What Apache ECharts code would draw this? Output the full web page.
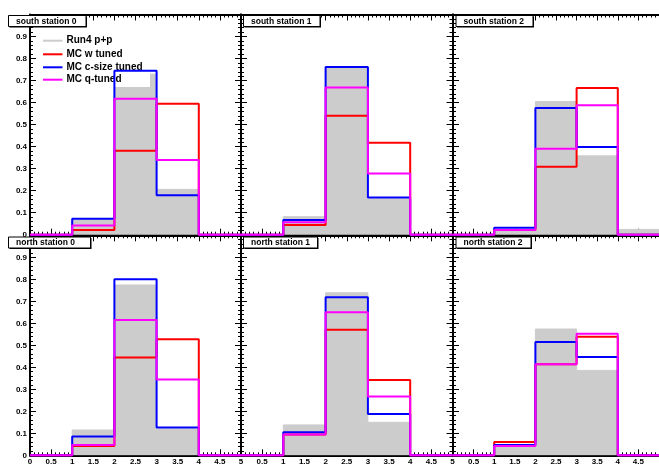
<!DOCTYPE html>
<html><head><meta charset="utf-8">
<script src="https://cdn.jsdelivr.net/npm/echarts@6/dist/echarts.min.js"></script>
<style>html,body{margin:0;padding:0;background:#fff;overflow:hidden}#c{width:659px;height:468px}</style>
</head><body><div id="c"></div><script>
// ---------------- data ----------------
const binStarts = [0, 1, 2, 3, 4];
const xMax = 5;
const panelTitles = ['south station 0', 'south station 1', 'south station 2',
                     'north station 0', 'north station 1', 'north station 2'];
const seriesNames = ['Run4 p+p', 'MC w tuned', 'MC c-size tuned', 'MC q-tuned'];
// per panel, bin contents for bins [0,1),[1,2),[2,3),[3,4),[4,5)
const run4PP = [
  [0, 0.071, 0.729, 0.206, 0],
  [0, 0.082, 0.762, 0.163, 0],
  [0, 0.020, 0.605, 0.358, 0.024],
  [0, 0.115, 0.774, 0.120, 0],
  [0, 0.138, 0.739, 0.150, 0],
  [0, 0.045, 0.574, 0.386, 0]
];
const mcWTuned = [
  [0, 0.021, 0.381, 0.595, 0],
  [0, 0.044, 0.540, 0.418, 0],
  [0, 0.021, 0.309, 0.666, 0],
  [0, 0.042, 0.444, 0.527, 0],
  [0, 0.094, 0.571, 0.342, 0],
  [0, 0.061, 0.414, 0.539, 0]
];
const mcCSizeTuned = [
  [0, 0.073, 0.744, 0.179, 0],
  [0, 0.067, 0.762, 0.169, 0],
  [0, 0.032, 0.575, 0.398, 0],
  [0, 0.085, 0.800, 0.126, 0],
  [0, 0.105, 0.718, 0.188, 0],
  [0, 0.047, 0.515, 0.447, 0]
];
const mcQTuned = [
  [0, 0.042, 0.617, 0.339, 0],
  [0, 0.057, 0.669, 0.278, 0],
  [0, 0.021, 0.390, 0.588, 0],
  [0, 0.047, 0.615, 0.345, 0],
  [0, 0.094, 0.650, 0.267, 0],
  [0, 0.042, 0.414, 0.552, 0]
];

// ---------------- layout / style ----------------
const FONT = '"Liberation Sans", Arial, Helvetica, sans-serif';
const colLeft = [30, 241, 453];
const colWidth = [211, 211.5, 211.5];
const rowTop = [14.5, 235.3];
const rowHeight = [220.2, 220];
const colors = ['#cccccc', '#ff0000', '#0000ff', '#ff00ff'];
const titleBoxes = [ // x, y, w, h
  [8.5, 15.5, 77.5, 11], [243.5, 15.5, 76.5, 11], [456, 15.5, 77, 11],
  [8.5, 237, 82, 11], [243.5, 237, 74, 11], [456, 237, 75, 11]
];

function stepData(vals) {
  const d = binStarts.map((x, i) => [x, vals[i]]);
  d.push([xMax, vals[vals.length - 1]]);
  return d;
}

const grids = [], xAxes = [], yAxes = [], series = [];
for (let p = 0; p < 6; p++) {
  const row = Math.floor(p / 3), col = p % 3;
  grids.push({left: colLeft[col], top: rowTop[row], width: colWidth[col], height: rowHeight[row], containLabel: false});
  const common = {
    gridIndex: p, type: 'value', min: 0,
    axisLine: {show: true, onZero: false, lineStyle: {color: '#000', width: 2}},
    axisTick: {show: true, inside: true, length: 6, lineStyle: {color: '#000', width: 1}},
    minorTick: {show: true, splitNumber: 5, length: 3, lineStyle: {color: '#000', width: 1}},
    splitLine: {show: false}, minorSplitLine: {show: false}
  };
  xAxes.push(Object.assign({}, common, {
    position: 'bottom', max: xMax, interval: 0.5,
    axisLabel: {show: row === 1, fontSize: 8, fontWeight: 'bold', fontFamily: FONT, color: '#000', margin: 2,
      showMinLabel: col === 0, showMaxLabel: col !== 2, formatter: v => String(v)}
  }));
  xAxes.push(Object.assign({}, common, {position: 'top', max: xMax, interval: 0.5, axisLabel: {show: false}}));
  yAxes.push(Object.assign({}, common, {
    position: 'left', max: 1, interval: 0.1,
    axisLabel: {show: col === 0, fontSize: 8, fontWeight: 'bold', fontFamily: FONT, color: '#000', margin: 3,
      showMaxLabel: false, formatter: v => (v === 0 ? '0' : v.toFixed(1))}
  }));
  yAxes.push(Object.assign({}, common, {position: 'right', max: 1, interval: 0.1, show: col !== 2, axisLabel: {show: false}}));

  const sets = [run4PP[p], mcWTuned[p], mcCSizeTuned[p], mcQTuned[p]];
  sets.forEach((vals, k) => {
    const s = {
      name: seriesNames[k], type: 'line', step: 'end', xAxisIndex: 2 * p, yAxisIndex: 2 * p,
      data: stepData(vals), symbol: 'none', silent: true, animation: false
    };
    if (k === 0) {
      s.lineStyle = {color: colors[0], width: 1};
      s.areaStyle = {color: colors[0], opacity: 1};
      s.z = 1;
    } else {
      s.lineStyle = {color: colors[k], width: 2};
      s.clip = false;
      s.z = 3;
    }
    series.push(s);
  });
}

const graphics = [];
// legend (white box hides the data fill behind it, drawn under the outlines)
graphics.push({type: 'rect', shape: {x: 38, y: 32, width: 112, height: 55}, style: {fill: '#fff'}, z: 1.5, silent: true});
const legY = [40.7, 54.3, 67.3, 79.7];
seriesNames.forEach((n, k) => {
  graphics.push({type: 'line', shape: {x1: 43, y1: legY[k], x2: 62.5, y2: legY[k]},
    style: {stroke: colors[k], lineWidth: 2}, z: 2, silent: true});
  graphics.push({type: 'text', x: 66.5, y: legY[k],
    style: {text: n, fill: '#000', font: 'bold 10px ' + FONT, verticalAlign: 'middle'}, z: 2, silent: true});
});
// panel titles
panelTitles.forEach((t, p) => {
  const [x, y, w, h] = titleBoxes[p];
  graphics.push({type: 'rect', shape: {x: x + 1, y: y + 1, width: w, height: h}, style: {fill: '#000'}, z: 10, silent: true});
  graphics.push({type: 'rect', shape: {x: x, y: y, width: w, height: h}, style: {fill: '#fff', stroke: '#000', lineWidth: 1}, z: 11, silent: true});
  graphics.push({type: 'text', x: x + 7.5, y: y + h / 2 + 0.5,
    style: {text: t, fill: '#000', font: 'bold 8.5px ' + FONT, verticalAlign: 'middle'}, z: 12, silent: true});
});

const chart = echarts.init(document.getElementById('c'), null, {renderer: 'canvas'});
chart.setOption({
  animation: false,
  backgroundColor: '#fff',
  grid: grids, xAxis: xAxes, yAxis: yAxes, series: series,
  graphic: {elements: graphics}
});
</script></body></html>
